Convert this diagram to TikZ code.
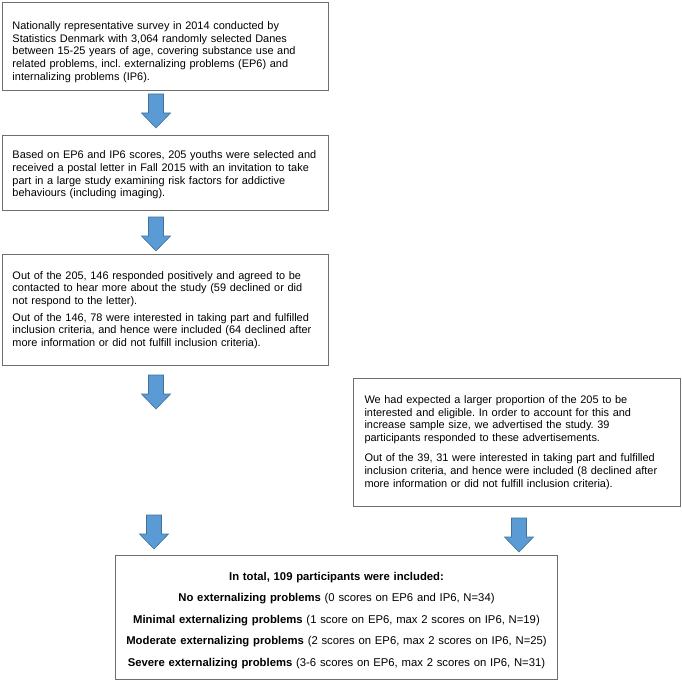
\documentclass[tikz,border=0pt]{standalone}
\usepackage{fontspec}
\setmainfont{Liberation Sans}
\frenchspacing
\definecolor{arrowfill}{HTML}{5B9BD5}
\definecolor{arrowline}{HTML}{41719C}
\definecolor{boxline}{HTML}{6E6E6E}
\tikzset{
  txtbox/.style={draw=boxline, line width=1pt, anchor=north west, inner xsep=10pt,
    align=left, font=\fontsize{10.95}{12.6}\selectfont},
  blockarrow/.pic={
    \path[fill=arrowfill, draw=arrowline, line width=0.6pt]
      (-7.5,0) -- (7.5,0) -- (7.5,19) -- (14.5,19) -- (0,34) -- (-14.5,19) -- (-7.5,19) -- cycle;
  }
}
\begin{document}
\begin{tikzpicture}[x=1pt,y=-1pt]
\useasboundingbox[fill=white] (0,0) rectangle (682,682);

\node[txtbox, text width=306pt, minimum height=88pt] (survey) at (2,2)
{\rule{0pt}{19pt}Nationally representative survey in 2014 conducted by\\
Statistics Denmark with 3,064 randomly selected Danes\\
between 15-25 years of age, covering substance use and\\
related problems, incl. externalizing problems (EP6) and\\
internalizing problems (IP6).};

\node[txtbox, text width=306pt, minimum height=75pt] (letter) at (2,135)
{\rule{0pt}{12pt}Based on EP6 and IP6 scores, 205 youths were selected and\\
received a postal letter in Fall 2015 with an invitation to take\\
part in a large study examining risk factors for addictive\\
behaviours (including imaging).};

\node[txtbox, text width=306pt, minimum height=111pt] (responded) at (2,254)
{Out of the 205, 146 responded positively and agreed to be\\
contacted to hear more about the study (59 declined or did\\
not respond to the letter).\\[4.5pt]
Out of the 146, 78 were interested in taking part and fulfilled\\
inclusion criteria, and hence were included (64 declined after\\
more information or did not fulfill inclusion criteria).};

\node[txtbox, inner xsep=11pt, text width=305pt, minimum height=128pt] (advert) at (353,378)
{We had expected a larger proportion of the 205 to be\\
interested and eligible. In order to account for this and\\
increase sample size, we advertised the study. 39\\
participants responded to these advertisements.\\[8pt]
Out of the 39, 31 were interested in taking part and fulfilled\\
inclusion criteria, and hence were included (8 declined after\\
more information or did not fulfill inclusion criteria).};

\node[txtbox, align=center, inner xsep=4pt, text width=434pt, minimum height=124pt,
  font=\fontsize{11.3}{21.4}\selectfont] (total) at (115,555)
{\rule{0pt}{14pt}\textbf{In total, 109 participants were included:}\\
\textbf{No externalizing problems} (0 scores on EP6 and IP6, N=34)\\
\textbf{Minimal externalizing problems} (1 score on EP6, max 2 scores on IP6, N=19)\\
\textbf{Moderate externalizing problems} (2 scores on EP6, max 2 scores on IP6, N=25)\\
\textbf{Severe externalizing problems} (3-6 scores on EP6, max 2 scores on IP6, N=31)};

\foreach \x/\y in {156/94, 156/217, 156/375, 154/515, 519/518}
\pic at (\x,\y) {blockarrow};
\end{tikzpicture}
\end{document}
